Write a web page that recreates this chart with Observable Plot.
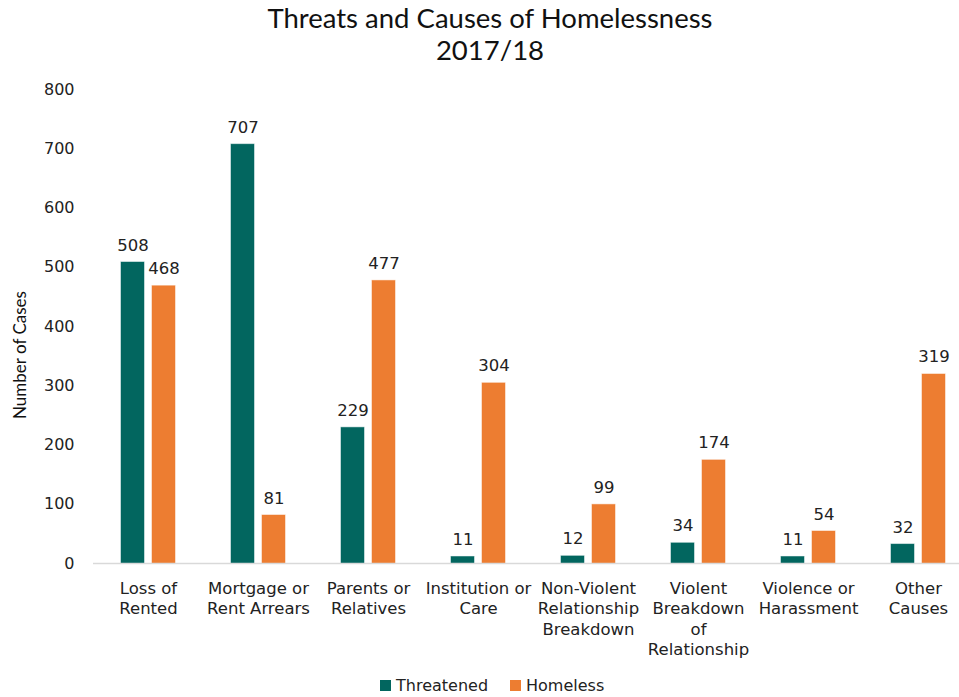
<!DOCTYPE html>
<html>
<head>
<meta charset="utf-8">
<script src="https://cdn.jsdelivr.net/npm/d3@7"></script>
<script src="https://cdn.jsdelivr.net/npm/@observablehq/plot@0.6"></script>
<style>
  html, body { margin: 0; padding: 0; background: #fff; }
  #wrap { position: relative; width: 959px; height: 697px; overflow: hidden; font-family: "DejaVu Sans", sans-serif; }
  #title { position: absolute; top: 2px; left: 0; width: 980px; text-align: center; font-family: "Lato", sans-serif; font-size: 27.5px; line-height: 32px; color: #111; }
  #chart { position: absolute; top: 70px; left: 0; }
  #ylab { position: absolute; left: 19px; top: 355px; transform: translate(-50%, -50%) rotate(-90deg); font-family: "Lato", sans-serif; font-size: 17px; white-space: nowrap; color: #111; }
  #legend { position: absolute; top: 676px; left: 380px; font-size: 16px; color: #222; display: flex; align-items: center; }
  .sw { display: inline-block; width: 11px; height: 11px; margin-right: 5px; }
</style>
</head>
<body>
<div id="wrap">
  <div id="title">Threats and Causes of Homelessness<br>2017/18</div>
  <div id="ylab">Number of Cases</div>
  <div id="chart"></div>
  <div id="legend"></div>
</div>
<script>
const categories = ["Loss of Rented","Mortgage or Rent Arrears","Parents or Relatives","Institution or Care","Non-Violent Relationship Breakdown","Violent Breakdown of Relationship","Violence or Harassment","Other Causes"];
const tickLabels = ["Loss of\nRented","Mortgage or\nRent Arrears","Parents or\nRelatives","Institution or\nCare","Non-Violent\nRelationship\nBreakdown","Violent\nBreakdown\nof\nRelationship","Violence or\nHarassment","Other\nCauses"];
const seriesNames = ["Threatened","Homeless"];
const threatened = [508,707,229,11,12,34,11,32];
const homeless = [468,81,477,304,99,174,54,319];
const yTicks = [0,100,200,300,400,500,600,700,800];
const colors = ["#02665f","#ed7d31"];

const rows = [];
categories.forEach((c, i) => {
  rows.push({category: c, series: seriesNames[0], value: threatened[i]});
  rows.push({category: c, series: seriesNames[1], value: homeless[i]});
});
const labelRows = categories.map((c, i) => ({category: c, label: tickLabels[i]}));

const plot = Plot.plot({
  width: 959,
  height: 600,
  marginLeft: 95,
  marginRight: 6,
  marginTop: 19,
  marginBottom: 107,
  style: {fontFamily: "DejaVu Sans, sans-serif", fontSize: "16px", color: "#222", background: "transparent"},
  fx: {domain: categories, range: [93, 973], padding: 0, axis: null},
  x: {domain: seriesNames, paddingInner: 0.25, paddingOuter: 0.85, axis: null},
  y: {domain: [0, 800], ticks: yTicks, tickSize: 0, tickPadding: 19, label: null, tickFormat: d => String(d)},
  color: {domain: seriesNames, range: colors},
  marks: [
    Plot.barY(rows, {fx: "category", x: "series", y: "value", fill: "series", stroke: "series", strokeOpacity: 0.5, inset: 0}),
    Plot.ruleY([0], {stroke: "#d9d9d9", strokeWidth: 1.5}),
    Plot.text(rows, {fx: "category", x: "series", y: "value", text: d => String(d.value), lineAnchor: "bottom", dy: -12, fontSize: 16.5, fill: "#222"}),
    Plot.text(labelRows, {fx: "category", text: "label", frameAnchor: "bottom", lineAnchor: "top", dy: 16, lineHeight: 1.24, fontSize: 16.5, fill: "#222"})
  ]
});
document.getElementById("chart").appendChild(plot);

const legend = document.getElementById("legend");
seriesNames.forEach((s, i) => {
  const item = document.createElement("span");
  item.style.display = "inline-flex";
  item.style.alignItems = "center";
  item.style.marginRight = i === 0 ? "22px" : "0";
  const sw = document.createElement("span");
  sw.className = "sw";
  sw.style.background = colors[i];
  item.appendChild(sw);
  item.appendChild(document.createTextNode(s));
  legend.appendChild(item);
});
</script>
</body>
</html>
